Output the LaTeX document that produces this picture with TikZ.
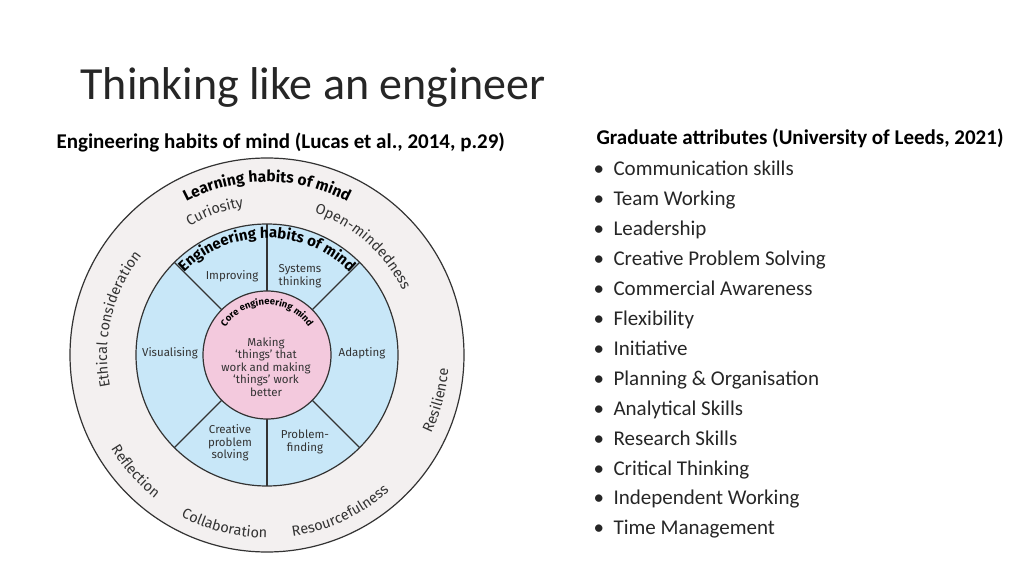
\documentclass[tikz,border=0pt]{standalone}
\usepackage{fontspec}
\setmainfont{Carlito}
\newfontfamily\diafont{Fira Sans}
\usetikzlibrary{decorations.text,calc}
\newcommand\lhmfont{\diafont\bfseries\fontsize{15.5}{15.5}\selectfont}
\newcommand\ehmfont{\diafont\bfseries\fontsize{15}{15}\selectfont}
\newcommand\lhfont{\diafont\fontsize{14.5}{14.5}\selectfont}
\newcommand\cemfont{\diafont\bfseries\fontsize{9.5}{9.5}\selectfont}
\newcommand\inlabfont{\diafont\fontsize{11.5}{12.5}\selectfont}
\definecolor{ringfill}{RGB}{243,240,240}
\definecolor{bluefill}{RGB}{200,231,248}
\definecolor{pinkfill}{RGB}{243,201,221}
\definecolor{txt}{RGB}{51,51,51}
\tikzset{
  ring/.style={draw=black!80,line width=1.2pt},
  inlab/.style={font=\inlabfont,text=txt,align=center},
  bullet/.style={anchor=base west,font=\fontsize{21}{21}\selectfont,text=black!85},
}
\begin{document}
\begin{tikzpicture}[x=1pt,y=1pt]
\useasboundingbox (0,0) rectangle (1024,576);
\coordinate (c) at (267,221);
% circles
\node[ring,circle,fill=ringfill,minimum size=394pt,inner sep=0pt] (outer) at (c) {};
\node[ring,circle,fill=bluefill,minimum size=262pt,inner sep=0pt] (mid) at (c) {};
\foreach \a in {45,90,135,225,270,315}
  \draw[ring] ($(c)+(\a:64)$) -- ($(c)+(\a:131)$);
\node[ring,circle,fill=pinkfill,minimum size=128pt,inner sep=0pt] (core) at (c) {};
% curved texts
\path[decoration={text along path,text align=center,text={|\lhmfont|Learning habits of mind}},decorate]
  ($(c)+(150:173)$) arc[start angle=150,end angle=30,radius=173];
\path[decoration={text along path,text align=center,text={|\lhfont\color{txt}|Curiosity}},decorate]
  ($(c)+(135:150)$) arc[start angle=135,end angle=85,radius=150];
\path[decoration={text along path,text align=center,text={|\lhfont\color{txt}|Open-mindedness}},decorate]
  ($(c)+(85:150)$) arc[start angle=85,end angle=12,radius=150];
\path[decoration={text along path,text align=center,text={|\lhfont\color{txt}|Ethical consideration}},decorate]
  ($(c)+(207:160)$) arc[start angle=207,end angle=126,radius=160];
\path[decoration={text along path,text align=center,text={|\lhfont\color{txt}|Resilience}},decorate]
  ($(c)+(-35:182)$) arc[start angle=-35,end angle=5,radius=182];
\path[decoration={text along path,text align=center,text={|\lhfont\color{txt}|Reflection}},decorate]
  ($(c)+(200:182)$) arc[start angle=200,end angle=243,radius=182];
\path[decoration={text along path,text align=center,text={|\lhfont\color{txt}|Collaboration}},decorate]
  ($(c)+(234:183)$) arc[start angle=234,end angle=278,radius=183];
\path[decoration={text along path,text align=center,text={|\lhfont\color{txt}|Resourcefulness}},decorate]
  ($(c)+(268:183)$) arc[start angle=268,end angle=322,radius=183];
\path[decoration={text along path,text align=center,text={|\ehmfont|Engineering habits of mind}},decorate]
  ($(c)+(155:117)$) arc[start angle=155,end angle=25,radius=117];
\path[decoration={text along path,text align=center,text={|\cemfont|Core engineering mind}},decorate]
  ($(c)+(175:50)$) arc[start angle=175,end angle=5,radius=50];
% inner labels
\node[inlab] (imp) at (232,300) {Improving};
\node[inlab] (sys) at (300,300) {Systems\\thinking};
\node[inlab] (vis) at (170,223) {Visualising};
\node[inlab] (ada) at (362,223) {Adapting};
\node[inlab] (cps) at (230,133) {Creative\\problem\\solving};
\node[inlab] (pf) at (305,134) {Problem-\\finding};
\node[inlab] (mk) at (266,209) {Making\\‘things’ that\\work and making\\‘things’ work\\better};
% headings
\node[anchor=base west,font=\fontsize{46}{46}\selectfont,text=black!85] (title) at (77,476) {Thinking like an engineer};
\node[anchor=base west,font=\bfseries\fontsize{21}{21}\selectfont] (lh) at (53,427) {Engineering habits of mind (Lucas et al., 2014, p.29)};
\node[anchor=base west,font=\bfseries\fontsize{21}{21}\selectfont] (ga) at (593,431) {Graduate attributes (University of Leeds, 2021)};
\foreach \t [count=\i] in {Communication skills,Team Working,Leadership,Creative Problem Solving,Commercial Awareness,Flexibility,Initiative,Planning \& Organisation,Analytical Skills,Research Skills,Critical Thinking,Independent Working,Time Management}{
  \node[bullet] (b\i) at (590,{400-(\i-1)*29.9}) {\textbullet};
  \node[bullet] (t\i) at (610,{400-(\i-1)*29.9}) {\t};
}
\end{tikzpicture}
\end{document}
